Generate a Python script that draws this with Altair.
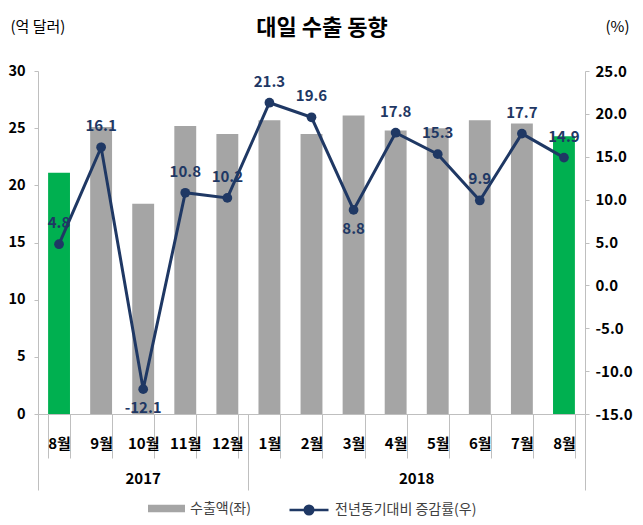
import altair as alt
import pandas as pd

# ---- data ----
title_text = "대일 수출 동향"
months = ["8월", "9월", "10월", "11월", "12월", "1월", "2월", "3월", "4월", "5월", "6월", "7월", "8월"]
month_years = ["2017"] * 5 + ["2018"] * 8
exports = [21.1, 25.1, 18.4, 25.2, 24.5, 25.7, 24.5, 26.1, 24.8, 25.0, 25.7, 25.4, 24.3]
growth = [4.8, 16.1, -12.1, 10.8, 10.2, 21.3, 19.6, 8.8, 17.8, 15.3, 9.9, 17.7, 14.9]
label_pos = ["above", "above", "below", "above", "above", "above", "above",
             "below", "above", "above", "above", "above", "above"]
years = ["2017", "2018"]
year_counts = [5, 8]
left_ticks = [0, 5, 10, 15, 20, 25, 30]
right_ticks = [-15, -10, -5, 0, 5, 10, 15, 20, 25]

cats = [f"{y}-{m}" for y, m in zip(month_years, months)]
df = pd.DataFrame({
    "cat": cats, "month": months, "exports": exports, "growth": growth,
    "pos": label_pos,
    "bar_series": "수출액(좌)",
    "line_series": "전년동기대비 증감률(우)",
})

bounds = [0]
for c in year_counts:
    bounds.append(bounds[-1] + c)
ydf = pd.DataFrame({"year": years, "start": bounds[:-1], "end": bounds[1:]})
ydf["mid"] = (ydf["start"] + ydf["end"]) / 2

# ---- style ----
W, H = 547, 343
FONT = "Noto Sans CJK KR"
AX = "#BFBFBF"
NAVY = "#1F3864"
GRAY = "#A5A5A5"
GREEN = "#00B050"
SIGNED = "(datum.value < 0 ? '-' : '') + format(abs(datum.value), '.1f')"

x_enc = alt.X(
    "cat:N", sort=cats,
    scale=alt.Scale(domain=cats, paddingInner=0.48, paddingOuter=0.24),
    axis=alt.Axis(
        title=None, orient="bottom", labelExpr="split(datum.value, '-')[1]",
        labelAngle=0, labelFont=FONT, labelFontSize=15, labelFontWeight="bold",
        labelColor="#000000", labelPadding=-22, labelBaseline="top",
        tickBand="extent", tickSize=44, tickColor=AX, domainColor=AX, grid=False,
    ),
)

bars = alt.Chart(df).mark_bar().encode(
    x=x_enc,
    y=alt.Y("exports:Q", scale=alt.Scale(domain=[0, 30], nice=False),
            axis=alt.Axis(title="(억 달러)", values=left_ticks, orient="left",
                          labelFont=FONT, labelFontSize=14.5, labelFontWeight="bold",
                          labelColor="#000000", tickSize=4, tickColor=AX, domainColor=AX,
                          labelPadding=9, grid=False,
                          titleAngle=0, titleAlign="left", titleBaseline="middle",
                          titleX=-28, titleY=-45, titleFont=FONT, titleFontSize=15,
                          titleFontWeight="normal", titleColor="#000000")),
    fill=alt.condition(
        alt.datum.month == "8월", alt.value(GREEN),
        alt.Fill("bar_series:N",
                 scale=alt.Scale(domain=["수출액(좌)"], range=[GRAY]),
                 legend=alt.Legend(title=None, orient="none", legendX=110, legendY=419,
                                   symbolType="M-1,-0.2H1V0.2H-1Z", symbolSize=1369,
                                   symbolStrokeWidth=0, labelFont=FONT, labelFontSize=14,
                                   labelColor="#404040", padding=0, labelOffset=5)),
    ),
)

y_right = alt.Y("growth:Q", scale=alt.Scale(domain=[-15, 25], nice=False),
                axis=alt.Axis(title="(%)", values=right_ticks, orient="right",
                              labelExpr=SIGNED,
                              labelFont=FONT, labelFontSize=15, labelFontWeight="bold",
                              labelColor="#000000", tickSize=4, tickColor=AX, domainColor=AX,
                              labelPadding=6, grid=False,
                              titleAngle=0, titleAlign="left", titleBaseline="middle",
                              titleX=20, titleY=-45, titleFont=FONT, titleFontSize=15,
                              titleFontWeight="normal", titleColor="#000000"))
y_plain = alt.Y("growth:Q", scale=alt.Scale(domain=[-15, 25], nice=False), axis=None)

line = alt.Chart(df).mark_line(strokeWidth=3).encode(
    x=x_enc, y=y_right,
    stroke=alt.Stroke("line_series:N",
                      scale=alt.Scale(domain=["전년동기대비 증감률(우)"], range=[NAVY]),
                      legend=alt.Legend(title=None, orient="none", legendX=250, legendY=418,
                                        symbolType="M-1,0H1M-0.22,0A0.22,0.22,0,1,1,0.22,0A0.22,0.22,0,1,1,-0.22,0Z",
                                        symbolSize=1521, symbolStrokeWidth=2.5,
                                        symbolFillColor=NAVY, labelFont=FONT, labelFontSize=14,
                                        labelColor="#404040", padding=0, labelOffset=5)),
)

points = alt.Chart(df).mark_circle(size=95, opacity=1, color=NAVY).encode(x=x_enc, y=y_plain)

base_lab = alt.Chart(df).transform_calculate(
    lab="(datum.growth < 0 ? '-' : '') + format(abs(datum.growth), '.1f')"
)

lab_above = base_lab.transform_filter(alt.datum.pos == "above").mark_text(
    dy=-21, font=FONT, fontSize=15, fontWeight="bold", color=NAVY
).encode(x=x_enc, y=y_plain, text="lab:N")

lab_below = base_lab.transform_filter(alt.datum.pos == "below").mark_text(
    dy=19, font=FONT, fontSize=15, fontWeight="bold", color=NAVY
).encode(x=x_enc, y=y_plain, text="lab:N")

inner = alt.layer(bars, line, points, lab_above, lab_below).resolve_scale(y="independent")

year_layer = alt.Chart(ydf).mark_text(
    font=FONT, fontSize=15, fontWeight="bold", baseline="middle", color="#000000"
).encode(
    x=alt.X("mid:Q", scale=alt.Scale(domain=[bounds[0], bounds[-1]], nice=False, zero=False),
            axis=alt.Axis(title=None, orient="bottom", values=bounds, labels=False,
                          tickSize=76, tickColor=AX, domain=False, grid=False)),
    y=alt.value(408),
    text="year:N",
)

title_layer = alt.Chart(pd.DataFrame({"t": [title_text]})).mark_text(
    font=FONT, fontSize=22, fontWeight="bold", baseline="middle", align="center", color="#000000"
).encode(x=alt.value(284), y=alt.value(-43), text="t:N")

chart = alt.layer(inner, year_layer, title_layer).resolve_scale(x="independent").properties(
    width=W, height=H,
    autosize=alt.AutoSizeParams(type="none"),
    padding={"left": 30, "top": 63, "right": 50, "bottom": 103},
).configure_view(stroke=None)

chart.save("out.html", embed_options={"renderer": "svg", "actions": False})
